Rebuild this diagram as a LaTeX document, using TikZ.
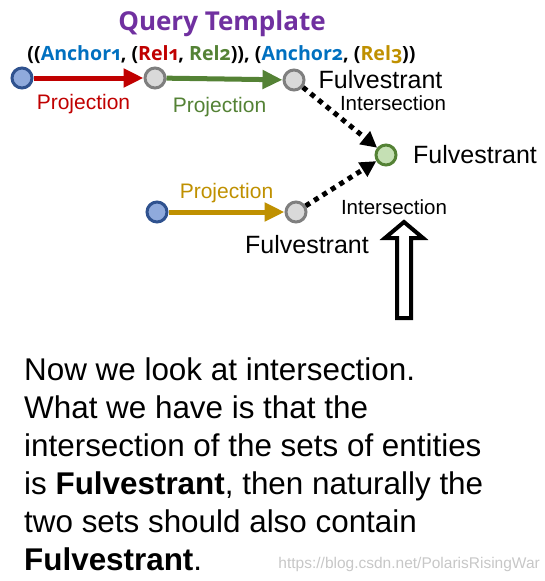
\documentclass[tikz,border=0pt]{standalone}
\usepackage{fontspec}
\setmainfont{Liberation Sans}
\newfontfamily\headfont[Numbers=OldStyle]{Open Sans}
\usepackage{tikz}
\usetikzlibrary{arrows.meta,calc,positioning}
\definecolor{QPurple}{RGB}{112,48,160}
\definecolor{QBlue}{RGB}{0,112,192}
\definecolor{QRed}{RGB}{192,0,0}
\definecolor{QGreen}{RGB}{84,130,53}
\definecolor{QGold}{RGB}{191,144,0}
\definecolor{AnchorFill}{RGB}{143,170,220}
\definecolor{AnchorLine}{RGB}{47,82,143}
\definecolor{VarFill}{RGB}{217,217,217}
\definecolor{VarLine}{RGB}{127,127,127}
\definecolor{AnsFill}{RGB}{197,224,180}
\tikzset{
  anchornode/.style={circle,draw=AnchorLine,fill=AnchorFill,line width=3pt,minimum size=20pt,inner sep=0pt},
  varnode/.style={circle,draw=VarLine,fill=VarFill,line width=3pt,minimum size=20pt,inner sep=0pt},
  ansnode/.style={circle,draw=QGreen,fill=AnsFill,line width=3pt,minimum size=20pt,inner sep=0pt},
  proj/.style={line width=5pt,-{Triangle[length=20pt,width=18pt]}},
  inter/.style={line width=5pt,dash pattern=on 5pt off 5pt,-{Triangle[length=16pt,width=16pt]}},
  lbl/.style={inner sep=1pt,font=\fontsize{25}{28}\selectfont},
  small/.style={inner sep=1pt,font=\fontsize{20.5}{24}\selectfont},
  projlbl/.style={inner sep=1pt,font=\fontsize{21}{24}\selectfont}
}

\begin{document}
\begin{tikzpicture}[x=1pt,y=-1pt]
\useasboundingbox (0,0) rectangle (545,581);
% query template
\node[font=\headfont\bfseries\fontsize{26}{30}\selectfont,text=QPurple] (title) at (222,24) {Query Template};
\node[font=\headfont\bfseries\fontsize{19.6}{22}\selectfont] (tuple) at (221.5,55) {((\textcolor{QBlue}{Anchor1}, (\textcolor{QRed}{Rel1}, \textcolor{QGreen}{Rel2})), (\textcolor{QBlue}{Anchor2}, (\textcolor{QGold}{Rel3}))};
% first branch
\node[anchornode] (a1) at (22,78) {};
\node[varnode] (v1) at (155,78) {};
\node[varnode] (v2) at (294,80) {};
\draw[proj,QRed] (a1)--node[projlbl,below=13pt,xshift=-5pt,text=QRed]{Projection}(v1);
\draw[proj,QGreen] (v1)--node[projlbl,below=14.5pt,xshift=-5pt,text=QGreen]{Projection}(v2);
\node[lbl,right=12pt of v2] (f1) {Fulvestrant};
% second branch
\node[anchornode] (a2) at (157,212) {};
\node[varnode] (v3) at (296,212) {};
\draw[proj,QGold] (a2)--node[projlbl,above=6pt,text=QGold]{Projection}(v3);
\node[lbl] (f2) at (307,245) {Fulvestrant};
% intersection
\node[ansnode] (ans) at (386,155) {};
\node[lbl,right=14.5pt of ans] (f3) {Fulvestrant};
\draw[inter] (v2)--(ans);
\draw[inter] (v3)--(ans);
\node[small] (i1) at (393,103) {Intersection};
\node[small] (i2) at (394,207) {Intersection};
% hollow arrow
\draw[line width=4pt,fill=white] (404,222)--(423,238)--(411,238)--(411,318)--(397,318)--(397,238)--(385,238)--cycle;
% explanation
\node[anchor=base west,align=left,inner sep=0pt,font=\fontsize{31.4}{38}\selectfont] (text) at (24,570) {Now we look at intersection.\\What we have is that the\\intersection of the sets of entities\\is \textbf{Fulvestrant}, then naturally the\\two sets should also contain\\\textbf{Fulvestrant}.};
\node[anchor=base east,inner sep=0pt,text=black!22,font=\fontsize{15.5}{18}\selectfont] (mark) at (540,568) {https://blog.csdn.net/PolarisRisingWar};
\end{tikzpicture}
\end{document}
